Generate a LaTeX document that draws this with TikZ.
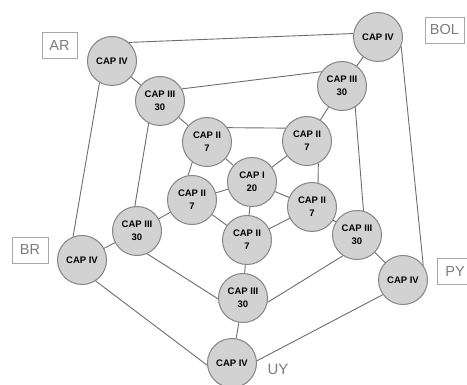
\documentclass[tikz,border=0pt]{standalone}
\usepackage{fontspec}
\setmainfont{Liberation Sans}
\definecolor{nodefill}{HTML}{D2D2D2}
\definecolor{nodeline}{HTML}{858585}
\definecolor{edgecol}{HTML}{6E6E6E}
\definecolor{labtext}{HTML}{7C7C7C}
\definecolor{labline}{HTML}{A8A8A8}
\begin{document}
\begin{tikzpicture}[x=1pt,y=-1pt,
  capnode/.style={circle,draw=nodeline,line width=1pt,fill=nodefill,minimum size=49pt,inner sep=0pt,align=center,font=\fontsize{9.5}{13}\selectfont\bfseries},
  edge/.style={draw=edgecol,line width=0.9pt},
  country/.style={draw=labline,line width=0.8pt,text=labtext,font=\fontsize{14.5}{16}\selectfont,inner sep=0pt,minimum height=26pt},
]
\clip (0,0) rectangle (467,385);
\fill[white] (0,0) rectangle (467,385);
% nodes
\node[capnode] (arIV) at (112,61) {CAP IV};
\node[capnode] (bolIV) at (378,37) {CAP IV};
\node[capnode] (brIV) at (82,260) {CAP IV};
\node[capnode] (pyIV) at (403,280) {CAP IV};
\node[capnode] (uyIV) at (232,363) {CAP IV};
\node[capnode] (arIII) at (160,101) {CAP III\\30};
\node[capnode] (bolIII) at (342,86) {CAP III\\30};
\node[capnode] (brIII) at (137,231) {CAP III\\30};
\node[capnode] (pyIII) at (357,235) {CAP III\\30};
\node[capnode] (uyIII) at (243,298) {CAP III\\30};
\node[capnode] (tl) at (207,142) {CAP II\\7};
\node[capnode] (tr) at (307,141) {CAP II\\7};
\node[capnode] (l) at (192,200) {CAP II\\7};
\node[capnode] (r) at (312,207) {CAP II\\7};
\node[capnode] (b) at (247,240) {CAP II\\7};
\node[capnode] (c) at (252,182) {CAP I\\20};
% country labels
\node[country,minimum width=35pt] (ar) at (59.5,45.5) {AR};
\node[country,minimum width=39pt] (bol) at (444.5,30) {BOL};
\node[country,minimum width=36pt] (br) at (30,250) {BR};
\node[country,minimum width=36pt] (py) at (455,271.5) {PY};
\node[text=labtext,font=\fontsize{15}{16}\selectfont,inner sep=0pt] (uy) at (278,369) {UY};
% edges
\path[edge] (arIV.48) -- (bolIV.172);
\path[edge] (arIV) -- (arIII);
\path[edge] (arIV.240) -- (brIV.111);
\path[edge] (arIII.29) -- (bolIII.145);
\path[edge] (arIII.243) -- (brIII.95);
\path[edge] (arIII) -- (tl);
\path[edge] (bolIV) -- (bolIII);
\path[edge] (bolIV.338) -- (pyIV.36);
\path[edge] (bolIII.302) -- (pyIII.75);
\path[edge] (bolIII) -- (tr);
\path[edge] (tl.35) -- (tr.149);
\path[edge] (tl.234) -- (l.99);
\path[edge] (tr.297) -- (r.76);
\path[edge] (l) -- (b);
\path[edge] (b) -- (r);
\path[edge] (c) -- (tl);
\path[edge] (c) -- (tr);
\path[edge] (c) -- (l);
\path[edge] (c) -- (r);
\path[edge] (c) -- (b);
\path[edge] (brIV) -- (brIII);
\path[edge] (brIII) -- (l);
\path[edge] (brIV.303) -- (uyIV.185);
\path[edge] (brIII.294) -- (uyIII.182);
\path[edge] (uyIII.350) -- (pyIII.236);
\path[edge] (uyIII) -- (uyIV);
\path[edge] (uyIV.5) -- (pyIV.216);
\path[edge] (pyIII) -- (pyIV);
\path[edge] (pyIII) -- (r);
\path[edge] (b) -- (uyIII);
\end{tikzpicture}
\end{document}
